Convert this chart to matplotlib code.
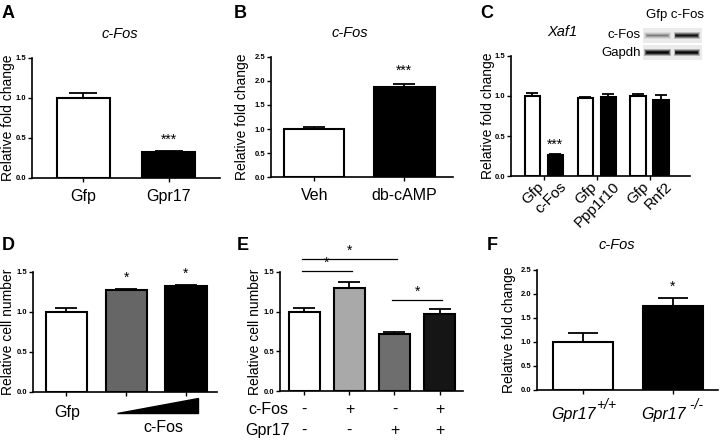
import matplotlib
matplotlib.use("Agg")
import matplotlib.pyplot as plt
import matplotlib.transforms as mtrans
import numpy as np
from matplotlib.patches import Rectangle, Polygon

plt.rcParams['font.family'] = ['Liberation Sans', 'DejaVu Sans']

# ---------------- data ----------------
a_labels = ["Gfp", "Gpr17"]
a_values = [1.00, 0.33]
a_errors = [0.06, 0.01]
a_sig = ["", "***"]

b_labels = ["Veh", "db-cAMP"]
b_values = [1.00, 1.88]
b_errors = [0.05, 0.05]
b_sig = ["", "***"]

c_labels = ["Gfp", "c-Fos", "Gfp", "Ppp1r10", "Gfp", "Rnf2"]
c_values = [1.00, 0.26, 0.97, 0.99, 1.00, 0.95]
c_errors = [0.04, 0.02, 0.02, 0.04, 0.025, 0.06]
c_sig = ["", "***", "", "", "", ""]
blot_rows = ["c-Fos", "Gapdh"]
blot_lanes = ["Gfp", "c-Fos"]
blot_intensity = [[0.25, 0.75], [0.95, 0.9]]

d_labels = ["Gfp", "c-Fos"]
d_values = [1.00, 1.27, 1.33]
d_errors = [0.05, 0.02, 0.01]
d_sig = ["", "*", "*"]

e_values = [1.00, 1.30, 0.72, 0.97]
e_errors = [0.04, 0.08, 0.02, 0.06]
e_cfos = ["-", "+", "-", "+"]
e_gpr17 = ["-", "-", "+", "+"]
e_row_labels = ["c-Fos", "Gpr17"]
e_brackets = [(0, 2, 1.66), (0, 1, 1.51), (2, 3, 1.15)]

f_labels = ["Gpr17", "Gpr17"]
f_genotypes = ["+/+", " -/-"]
f_values = [1.00, 1.75]
f_errors = [0.19, 0.17]
f_sig = ["", "*"]

W, H = 720, 441
fig = plt.figure(figsize=(7.2, 4.41), dpi=100)


def make_ax(x0, x1, ytop, ybot):
    ax = fig.add_axes([x0 / W, 1 - ybot / H, (x1 - x0) / W, (ybot - ytop) / H])
    ax._wpx = x1 - x0
    return ax


def fpx(x, y):
    return x / W, 1 - y / H


def style(ax, ymax, step, ylabel, xlim, label_gap=17):
    ax.set_ylim(0, ymax)
    ax.set_xlim(*xlim)
    ticks = np.arange(0, ymax + 1e-9, step)
    ax.set_yticks(ticks)
    ax.set_yticklabels([f"{v:.1f}" for v in ticks], fontsize=5.5, fontweight='bold')
    for s in ['top', 'right']:
        ax.spines[s].set_visible(False)
    for s in ['left', 'bottom']:
        ax.spines[s].set_linewidth(1.2)
    ax.tick_params(axis='y', direction='out', length=3, width=1, pad=1)
    ax.tick_params(axis='x', direction='out', length=3, width=1)
    ax.set_ylabel(ylabel, fontsize=10)
    ax.yaxis.set_label_coords(-label_gap / ax._wpx, 0.5)
    ax.patch.set_alpha(0)


def bars(ax, x, vals, errs, colors, width, capsize):
    ax.errorbar(x, vals, yerr=[np.zeros(len(vals)), errs], fmt='none', ecolor='black',
                elinewidth=1.3, capsize=capsize, capthick=1.3, zorder=1)
    ax.bar(x, vals, width=width, color=colors, edgecolor='black', linewidth=1.5, zorder=2)


def stars(ax, x, vals, errs, sig, off=8):
    for xi, v, e, s in zip(x, vals, errs, sig):
        if s:
            ax.annotate(s, (xi, v + e), xytext=(0, off), textcoords='offset points',
                        ha='center', va='center', fontsize=10, annotation_clip=False)


# ---------------- A ----------------
ax = make_ax(32, 220, 58, 178)
x = np.arange(len(a_values))
style(ax, 1.5, 0.5, "Relative fold change", (-0.6, 1.6), label_gap=17)
bars(ax, x, a_values, a_errors, ['white', 'black'], 0.62, 10)
stars(ax, x, a_values, a_errors, a_sig)
ax.set_xticks(x)
ax.set_xticklabels(a_labels, fontsize=11.5)
ax.tick_params(axis='x', pad=5)
fig.text(*fpx(120, 34), "c-Fos", fontsize=10.5, style='italic', ha='center', va='center')
fig.text(*fpx(8, 13), "A", fontsize=13, fontweight='bold', ha='center', va='center')

# ---------------- B ----------------
ax = make_ax(271, 453, 57, 177)
x = np.arange(len(b_values))
style(ax, 2.5, 0.5, "Relative fold change", (-0.48, 1.54), label_gap=22)
bars(ax, x, b_values, b_errors, ['white', 'black'], 0.67, 8)
stars(ax, x, b_values, b_errors, b_sig, off=10)
ax.set_xticks(x)
ax.set_xticklabels(b_labels, fontsize=11.5)
ax.tick_params(axis='x', pad=5)
fig.text(*fpx(350, 33), "c-Fos", fontsize=10.5, style='italic', ha='center', va='center')
fig.text(*fpx(240, 13), "B", fontsize=13, fontweight='bold', ha='center', va='center')

# ---------------- C ----------------
ax = make_ax(511, 690, 56, 176)
x = np.array([0, 1, 2.3, 3.3, 4.6, 5.6])
style(ax, 1.5, 0.5, "Relative fold change", (-0.93, 6.86), label_gap=16)
bars(ax, x, c_values, c_errors, ['white', 'black'] * 3, 0.67, 4.3)
stars(ax, x, c_values, c_errors, c_sig, off=6)
ax.set_xticks((x[0::2] + x[1::2]) / 2)
ax.set_xticklabels([])
ax.set_xticks(x, minor=True)
ax.set_xticklabels(c_labels, minor=True, fontsize=11, rotation=45, ha='right',
                   va='center', rotation_mode='anchor')
ax.tick_params(axis='x', which='minor', length=0, pad=6)
shift = mtrans.ScaledTranslation(9 / 100, 0, fig.dpi_scale_trans)
for lab in ax.get_xticklabels(minor=True):
    lab.set_transform(lab.get_transform() + shift)
fig.text(*fpx(562, 32), "Xaf1", fontsize=10.5, style='italic', ha='center', va='center')
fig.text(*fpx(487, 13), "C", fontsize=13, fontweight='bold', ha='center', va='center')

# western blot inset
bx = fig.add_axes([643 / W, 1 - 61 / H, 59 / W, 34 / H])
bx.set_xlim(0, 2)
bx.set_ylim(0, 2)
bx.axis('off')
for r in range(2):
    yb = 1 - r  # row 0 on top
    bx.add_patch(Rectangle((0, yb + 0.08), 2, 0.84, color='#ebebeb', lw=0))
    for l in range(2):
        inten = blot_intensity[r][l]
        for k, (hh, aa) in enumerate([(0.38, 0.25), (0.28, 0.45), (0.18, 0.7), (0.1, 0.9)]):
            bx.add_patch(Rectangle((l + 0.04 + 0.03 * k, yb + 0.5 - hh / 2), 0.9 - 0.06 * k, hh,
                                   color='black', alpha=aa * inten, lw=0))
fig.text(*fpx(675, 15), " ".join(blot_lanes), fontsize=9.5, ha='center', va='center')
for r, lab in enumerate(blot_rows):
    fig.text(*fpx(641, 35 + 18 * r), lab, fontsize=9.5, ha='right', va='center')

# ---------------- D ----------------
ax = make_ax(33, 217, 272, 392)
x = np.arange(len(d_values))
style(ax, 1.5, 0.5, "Relative cell number", (-0.56, 2.52), label_gap=18)
bars(ax, x, d_values, d_errors, ['white', '#666666', 'black'], 0.69, 8)
stars(ax, x, d_values, d_errors, d_sig)
ax.set_xticks(x)
ax.set_xticklabels([])
fig.text(*fpx(67, 413), d_labels[0], fontsize=11.5, ha='center', va='center')
fig.text(*fpx(163, 428), d_labels[1], fontsize=11.5, ha='center', va='center')
tri = Polygon([fpx(117, 413), fpx(198, 413), fpx(198, 398)], closed=True,
              transform=fig.transFigure, facecolor='black', edgecolor='black')
fig.add_artist(tri)
fig.text(*fpx(8, 245), "D", fontsize=13, fontweight='bold', ha='center', va='center')

# ---------------- E ----------------
ax = make_ax(280, 463, 272, 391)
x = np.arange(len(e_values))
style(ax, 1.5, 0.5, "Relative cell number", (-0.54, 3.52), label_gap=18)
bars(ax, x, e_values, e_errors, ['white', '#a9a9a9', '#6e6e6e', '#151515'], 0.69, 8)
ax.set_xticks(x)
ax.set_xticklabels([])
for i0, i1, yy in e_brackets:
    ax.plot([x[i0] - 0.05, x[i1] + 0.05], [yy, yy], color='black', lw=0.9, clip_on=False)
    ax.annotate("*", ((x[i0] + x[i1]) / 2, yy), xytext=(0, 6), textcoords='offset points',
                ha='center', va='center', fontsize=10, annotation_clip=False)
for xi, s1, s2 in zip(x, e_cfos, e_gpr17):
    ax.annotate(s1, (xi, 0), xytext=(0, -13.5), textcoords='offset points',
                ha='center', va='center', fontsize=11.5, annotation_clip=False)
    ax.annotate(s2, (xi, 0), xytext=(0, -28.5), textcoords='offset points',
                ha='center', va='center', fontsize=11.5, annotation_clip=False)
fig.text(*fpx(268, 410), e_row_labels[0], fontsize=11.5, ha='center', va='center')
fig.text(*fpx(268, 431), e_row_labels[1], fontsize=11.5, ha='center', va='center')
fig.text(*fpx(243, 245), "E", fontsize=13, fontweight='bold', ha='center', va='center')

# ---------------- F ----------------
ax = make_ax(537, 718, 270, 390)
x = np.arange(len(f_values))
style(ax, 2.5, 0.5, "Relative fold change", (-0.51, 1.5), label_gap=21)
bars(ax, x, f_values, f_errors, ['white', 'black'], 0.67, 11)
stars(ax, x, f_values, f_errors, f_sig)
ax.set_xticks(x)
ax.set_xticklabels([])
for xi, lab, gen in zip(x, f_labels, f_genotypes):
    ax.annotate(lab, (xi, 0), xytext=(9, -18), textcoords='offset points',
                ha='right', va='center', fontsize=11.5, style='italic', annotation_clip=False)
    ax.annotate(gen, (xi, 0), xytext=(9.5, -11), textcoords='offset points',
                ha='left', va='center', fontsize=10, style='italic', annotation_clip=False)
fig.text(*fpx(617, 245), "c-Fos", fontsize=10.5, style='italic', ha='center', va='center')
fig.text(*fpx(492, 246), "F", fontsize=13, fontweight='bold', ha='center', va='center')

fig.savefig("out.png", dpi=100)
